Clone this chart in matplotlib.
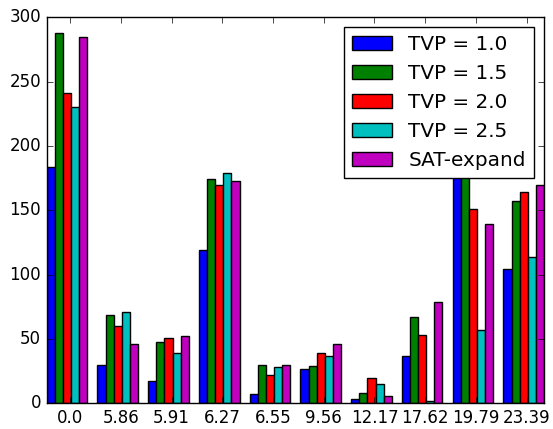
import numpy as np
import matplotlib
matplotlib.use("Agg")
import matplotlib.pyplot as plt

plt.style.use("classic")

labels = ["0.0", "5.86", "5.91", "6.27", "6.55", "9.56", "12.17", "17.62", "19.79", "23.39"]

tvp_10 = [184, 30, 17, 119, 7, 27, 3, 37, 190, 104]
tvp_15 = [288, 69, 48, 174, 30, 29, 8, 67, 195, 157]
tvp_20 = [241, 60, 51, 170, 22, 39, 20, 53, 151, 164]
tvp_25 = [230, 71, 39, 179, 28, 37, 15, 2, 57, 114]
sat_expand = [285, 46, 52, 173, 30, 46, 6, 79, 139, 170]

series = [tvp_10, tvp_15, tvp_20, tvp_25, sat_expand]
names = ["TVP = 1.0", "TVP = 1.5", "TVP = 2.0", "TVP = 2.5", "SAT-expand"]
colors = ["b", "g", "r", "c", "m"]

ind = np.arange(len(labels))
width = 0.16

fig = plt.figure(figsize=(5.53, 4.29), dpi=100, facecolor="white")
ax = fig.add_axes([0.0844, 0.0599, 0.8993, 0.8998])

for i, (vals, name, col) in enumerate(zip(series, names, colors)):
    ax.bar(ind + i * width, vals, width, color=col, label=name, align="edge",
           edgecolor="black", linewidth=1.0)

ax.set_xticks(ind + 0.46)
ax.set_xticklabels(labels)
ax.set_xlim(0, len(labels) - 1 + 5 * width)
ax.set_ylim(0, 300)
ax.tick_params(labelsize=12)

leg = ax.legend(loc="upper right", fontsize=14.4, borderaxespad=0.5)
leg.get_frame().set_facecolor("white")

fig.savefig("out.png", dpi=100, facecolor="white")
